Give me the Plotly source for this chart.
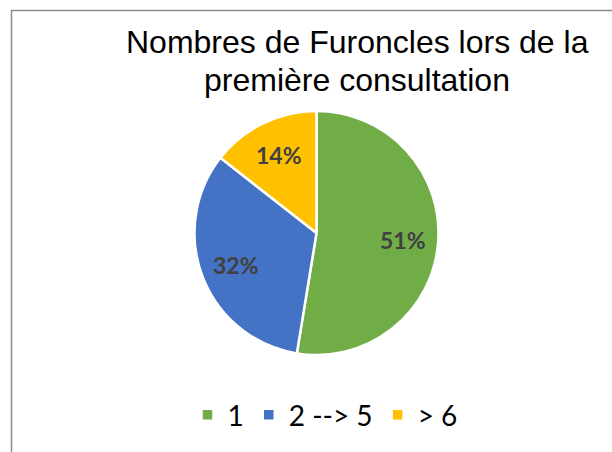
import math
import plotly.graph_objects as go

categories = ["1", "2 --> 5", "> 6"]
values = [51, 32, 14]
colors = ["#70AD47", "#4472C4", "#FFC000"]
title_lines = ["Nombres de Furoncles lors de la", "première consultation"]

W, H = 612, 452
# pie placement (pixels)
CX, CY, R = 316.5, 233.0, 122.0

fig = go.Figure(go.Pie(
    labels=categories,
    values=values,
    sort=False,
    direction="clockwise",
    rotation=0,
    marker=dict(colors=colors, line=dict(color="white", width=2.5)),
    textinfo="none",
    hoverinfo="label+value",
    domain=dict(x=[(CX - R) / W, (CX + R) / W], y=[1 - (CY + R) / H, 1 - (CY - R) / H]),
))

# data labels positioned from the slice mid-angles
annotations = []
total = sum(values)
cum = 0.0
for v in values:
    mid = (cum + v / 2) / total * 2 * math.pi
    cum += v
    rr = 0.71 * R
    px = CX + rr * math.sin(mid)
    py = CY - rr * math.cos(mid)
    annotations.append(dict(
        x=px / W, y=1 - py / H, xref="paper", yref="paper",
        text=f"<b>{v}%</b>", showarrow=False,
        xanchor="center", yanchor="middle",
        font=dict(family="Lato, Calibri, sans-serif", size=23, color="#404040"),
    ))

# title lines
for i, line in enumerate(title_lines):
    annotations.append(dict(
        x=357 / W, y=1 - (42.5 + 37.3 * i) / H, xref="paper", yref="paper",
        text=line, showarrow=False, xanchor="center", yanchor="middle",
        font=dict(family="Liberation Sans, Arial, sans-serif", size=32, color="#000000"),
    ))

fig.update_layout(
    width=W, height=H,
    margin=dict(l=0, r=0, t=0, b=0),
    paper_bgcolor="white",
    plot_bgcolor="white",
    legend=dict(
        orientation="h",
        x=325 / W, xanchor="center",
        y=1 - 415 / H, yanchor="middle",
        font=dict(family="Lato, Calibri, sans-serif", size=28, color="#000000"),
        itemclick=False,
        traceorder="normal",
    ),
    annotations=annotations,
    shapes=[dict(
        type="rect", xref="paper", yref="paper",
        x0=11.5 / W, x1=1.05, y0=-0.05, y1=1 - 10.5 / H,
        line=dict(color="#8C8C8C", width=1.5),
        fillcolor="rgba(0,0,0,0)",
        layer="above",
    )],
)

fig.write_html(
    "out.html",
    config={"displayModeBar": False},
    post_script="document.body.style.margin='0';document.body.style.overflow='hidden';",
)
